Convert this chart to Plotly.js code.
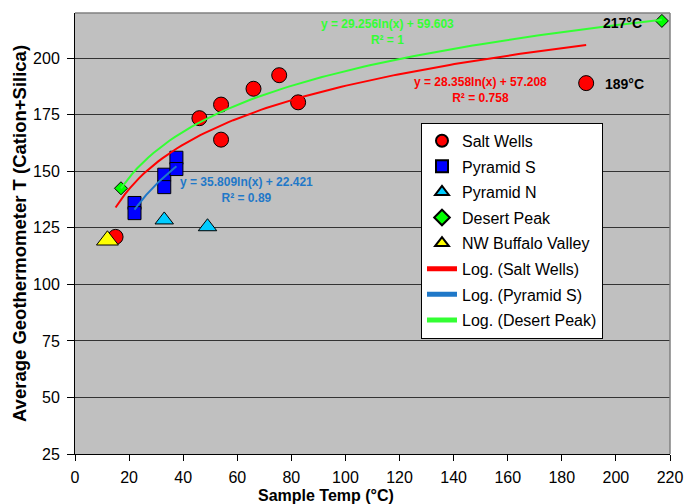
<!DOCTYPE html>
<html>
<head>
<meta charset="utf-8">
<script src="https://cdn.plot.ly/plotly-3.0.1.min.js"></script>
<style>html,body{margin:0;padding:0;background:#fff;}#chart{width:688px;height:504px;}</style>
</head>
<body>
<div id="chart"></div>
<script>
// ---- data ----
const saltWellsX = [15, 46, 54, 54, 66, 75.5, 82.5, 189];
const saltWellsY = [121, 173.5, 179.5, 164, 186.5, 192.5, 180.5, 189];
const pyramidSX = [22, 22, 33, 33, 37.5, 37.5];
const pyramidSY = [136, 131.5, 148.5, 143, 156, 151];
const pyramidNX = [33, 49];
const pyramidNY = [128.5, 125.5];
const desertPeakX = [17, 217];
const desertPeakY = [142.5, 216.5];
const buffaloX = [12];
const buffaloY = [119.5];
// log trendline coefficients (y = a ln(x) + b) as printed on the chart
const trendSaltWells = [28.358, 57.208];
const trendPyramidS = [35.809, 22.421];
const trendDesertPeak = [29.256, 59.603];
const xTicks = [0, 20, 40, 60, 80, 100, 120, 140, 160, 180, 200, 220];
const yTicks = [25, 50, 75, 100, 125, 150, 175, 200];

function trend(xs, coef) {
  const lo = Math.min(...xs), hi = Math.max(...xs);
  const X = [], Y = [];
  const n = 100;
  for (let i = 0; i <= n; i++) {
    const x = lo + (hi - lo) * i / n;
    X.push(x);
    Y.push(coef[0] * Math.log(x) + coef[1]);
  }
  return {x: X, y: Y};
}

const F = '"Liberation Sans", Arial, sans-serif';
const outline = {color: '#000', width: 1};

const tSW = trend(saltWellsX, trendSaltWells);
const tPS = trend(pyramidSX, trendPyramidS);
const tDP = trend(desertPeakX, trendDesertPeak);

const traces = [
  {x: saltWellsX, y: saltWellsY, mode: 'markers', type: 'scatter', name: 'Salt Wells', legendgroup: 'a',
   marker: {symbol: 'circle', size: 15, color: '#FF0000', line: outline}},
  {x: pyramidSX, y: pyramidSY, mode: 'markers', type: 'scatter', name: 'Pyramid S', legendgroup: 'b',
   marker: {symbol: 'square', size: 13, color: '#0000FF', line: outline}},
  {x: pyramidNX, y: pyramidNY, mode: 'markers', type: 'scatter', name: 'Pyramid N', legendgroup: 'c',
   marker: {symbol: 'triangle-up', size: 16, color: '#00CCFF', line: outline}},
  {x: desertPeakX, y: desertPeakY, mode: 'markers', type: 'scatter', name: 'Desert Peak', legendgroup: 'd',
   marker: {symbol: 'diamond', size: 10, color: '#00FF00', line: outline}},
  {x: buffaloX, y: buffaloY, mode: 'markers', type: 'scatter', name: 'NW Buffalo Valley', legendgroup: 'e',
   marker: {symbol: 'triangle-up', size: 19, color: '#FFFF00', line: outline}},
  {x: tSW.x, y: tSW.y, mode: 'lines', type: 'scatter', name: 'Log. (Salt Wells)', legendgroup: 'f',
   line: {color: '#FF0000', width: 2}},
  {x: tPS.x, y: tPS.y, mode: 'lines', type: 'scatter', name: 'Log. (Pyramid S)', legendgroup: 'g',
   line: {color: '#1F78C8', width: 2}},
  {x: tDP.x, y: tDP.y, mode: 'lines', type: 'scatter', name: 'Log. (Desert Peak)', legendgroup: 'h',
   line: {color: '#33FF33', width: 2}}
];

const layout = {
  width: 688, height: 504,
  margin: {l: 75, r: 18, t: 13, b: 50},
  paper_bgcolor: '#FFFFFF',
  plot_bgcolor: '#C0C0C0',
  font: {family: F, color: '#000', size: 16},
  showlegend: true,
  legend: {
    x: 0.5815, y: 0.751, xanchor: 'left', yanchor: 'top',
    bgcolor: '#FFFFFF', bordercolor: '#000', borderwidth: 1,
    font: {family: F, size: 16, color: '#000'},
    itemsizing: 'constant', tracegroupgap: 1.8, traceorder: 'grouped'
  },
  xaxis: {
    range: [0, 220], tickvals: xTicks, ticktext: xTicks.map(String),
    showgrid: false, zeroline: false,
    showline: true, linecolor: '#000', linewidth: 1,
    ticks: 'outside', ticklen: 6, tickcolor: '#000',
    ticklabelstandoff: 3,
    tickfont: {family: F, size: 16, color: '#000'}
  },
  yaxis: {
    range: [25, 220], tickvals: yTicks, ticktext: yTicks.map(String),
    showgrid: true, gridcolor: '#333333', gridwidth: 1,
    zeroline: false,
    showline: true, linecolor: '#000', linewidth: 1,
    ticks: 'outside', ticklen: 7, tickcolor: '#000',
    ticklabelstandoff: 4,
    tickfont: {family: F, size: 16, color: '#000'},
    title: {text: 'Average Geothermometer T (Cation+Silica)', font: {family: F, size: 18.5, color: '#000', weight: 'bold'}, standoff: 1}
  },
  shapes: [
    {type: 'line', xref: 'paper', yref: 'paper', x0: 0, x1: 1, y0: 1, y1: 1, line: {color: '#808080', width: 1.5}, layer: 'above'},
    {type: 'line', xref: 'paper', yref: 'paper', x0: 1, x1: 1, y0: 0, y1: 1, line: {color: '#808080', width: 1.5}, layer: 'above'}
  ],
  annotations: [
    {x: 0.4218, y: -0.0952, xref: 'paper', yref: 'paper', showarrow: false, xanchor: 'center', yanchor: 'middle',
     text: 'Sample Temp (°C)', font: {family: F, size: 16, color: '#000', weight: 'bold'}},
    {x: 115.4, y: 211.5, xref: 'x', yref: 'y', showarrow: false, align: 'center',
     text: 'y = 29.256ln(x) + 59.603<br>R² = 1', font: {family: F, size: 12, color: '#33FF33', weight: 'bold'}},
    {x: 149.8, y: 185.8, xref: 'x', yref: 'y', showarrow: false, align: 'center',
     text: 'y = 28.358ln(x) + 57.208<br>R² = 0.758', font: {family: F, size: 12, color: '#FF0000', weight: 'bold'}},
    {x: 63.4, y: 141.7, xref: 'x', yref: 'y', showarrow: false, align: 'center',
     text: 'y = 35.809ln(x) + 22.421<br>R² = 0.89', font: {family: F, size: 12, color: '#1F78C8', weight: 'bold'}},
    {x: 202.6, y: 215.5, xref: 'x', yref: 'y', showarrow: false,
     text: '217°C', font: {family: F, size: 14, color: '#000', weight: 'bold'}},
    {x: 203.0, y: 188.5, xref: 'x', yref: 'y', showarrow: false,
     text: '189°C', font: {family: F, size: 14, color: '#000', weight: 'bold'}}
  ]
};

Plotly.newPlot('chart', traces, layout, {displayModeBar: false, staticPlot: true});
</script>
</body>
</html>
